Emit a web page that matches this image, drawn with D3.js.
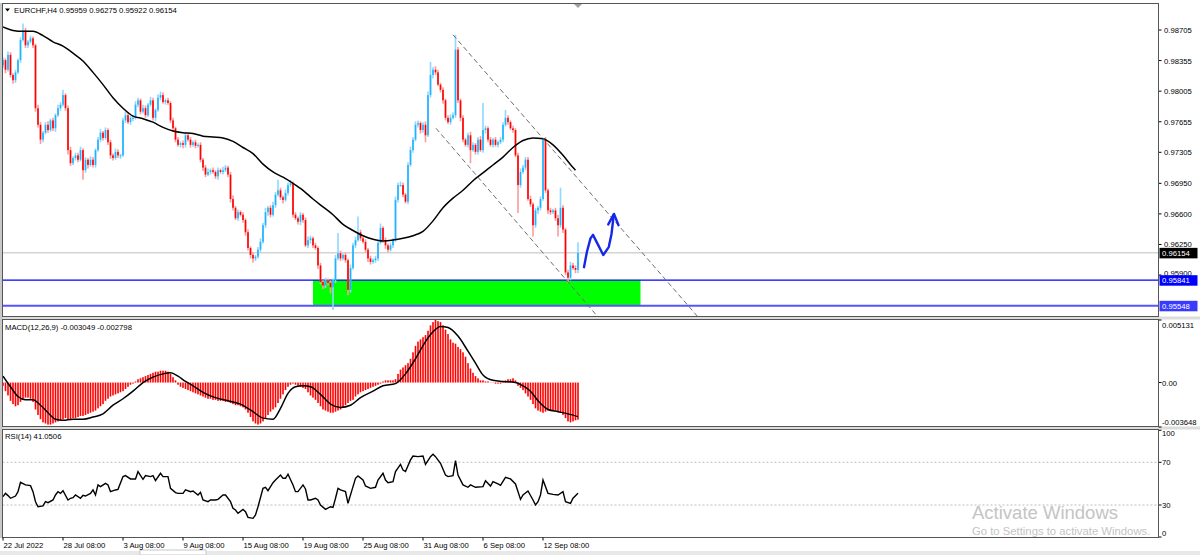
<!DOCTYPE html>
<html><head><meta charset="utf-8">
<script src="https://cdn.jsdelivr.net/npm/d3@7"></script>
<style>
body{margin:0;background:#fff;overflow:hidden}
svg{display:block}
text{font-family:"Liberation Sans",Arial,sans-serif}
</style></head>
<body><svg id="c" width="1200" height="555"></svg>
<script>
// ---------------- DATA ----------------
const symbolLabel = "EURCHF,H4";
const headerOHLC = ["0.95959","0.96275","0.95922","0.96154"];
const firstOpen = 0.9830;
const closes = [
0.9836,0.9825,0.9842,0.9819,0.9813,0.9822,0.9836,0.9859,0.9870,0.9853,
0.9857,0.9861,0.9853,0.9781,0.9762,0.9745,0.9753,0.9762,0.9756,0.9767,
0.9758,0.9773,0.9781,0.9785,0.9796,0.9781,0.9733,0.9718,0.9724,0.9727,
0.9722,0.9733,0.9710,0.9722,0.9716,0.9722,0.9716,0.9733,0.9745,0.9753,
0.9747,0.9756,0.9742,0.9727,0.9724,0.9731,0.9727,0.9727,0.9767,0.9773,
0.9765,0.9770,0.9770,0.9785,0.9790,0.9777,0.9781,0.9773,0.9785,0.9790,
0.9770,0.9779,0.9793,0.9796,0.9788,0.9790,0.9787,0.9767,0.9758,0.9745,
0.9739,0.9741,0.9739,0.9750,0.9745,0.9739,0.9742,0.9738,0.9739,0.9722,
0.9713,0.9705,0.9708,0.9710,0.9708,0.9703,0.9710,0.9708,0.9710,0.9713,
0.9705,0.9677,0.9667,0.9655,0.9662,0.9659,0.9653,0.9639,0.9621,0.9613,
0.9609,0.9611,0.9619,0.9628,0.9647,0.9662,0.9667,0.9659,0.9670,0.9682,
0.9687,0.9679,0.9676,0.9684,0.9693,0.9695,0.9659,0.9655,0.9651,0.9659,
0.9653,0.9624,0.9630,0.9632,0.9624,0.9621,0.9601,0.9582,0.9578,0.9584,
0.9581,0.9576,0.9584,0.9609,0.9615,0.9609,0.9613,0.9607,0.9573,0.9598,
0.9624,0.9630,0.9639,0.9632,0.9628,0.9619,0.9609,0.9605,0.9607,0.9609,
0.9627,0.9644,0.9630,0.9624,0.9619,0.9624,0.9630,0.9676,0.9693,0.9693,
0.9682,0.9674,0.9716,0.9733,0.9745,0.9762,0.9764,0.9756,0.9762,0.9750,
0.9796,0.9819,0.9825,0.9822,0.9808,0.9802,0.9790,0.9770,0.9765,0.9770,
0.9773,0.9848,0.9790,0.9770,0.9745,0.9739,0.9750,0.9733,0.9739,0.9731,
0.9745,0.9733,0.9756,0.9758,0.9745,0.9739,0.9745,0.9739,0.9742,0.9745,
0.9762,0.9770,0.9765,0.9758,0.9756,0.9727,0.9693,0.9708,0.9713,0.9722,
0.9677,0.9671,0.9647,0.9664,0.9667,0.9677,0.9745,0.9687,0.9664,0.9662,
0.9664,0.9655,0.9647,0.9667,0.9642,0.9593,0.9587,0.9601,0.9598,0.9596,
0.96154];
// wick lengths above/below the body, in pips (0.0001)
const upperWickPips = [
3,2,4,3,2,3,2,3,8,3, 2,3,2,2,4,3,2,3,4,2, 3,2,4,3,6,2,3,4,2,3, 3,4,2,3,2,4,3,2,3,4,
2,3,2,3,2,4,3,2,3,4, 3,2,3,4,3,2,4,3,2,4, 3,2,4,4,3,2,3,2,3,2, 3,2,3,4,2,3,2,3,2,3,
2,3,4,2,3,2,3,2,4,3, 2,3,4,2,3,2,3,2,3,2, 3,2,3,4,3,5,2,3,4,3, 12,3,2,4,3,4,2,3,2,3,
2,3,4,3,2,3,2,3,2,3, 2,3,2,4,23,3,2,3,2,4, 3,4,18,3,2,3,2,3,2,3, 3,5,2,3,2,3,2,4,3,4,
3,2,3,4,3,4,3,2,3,4, 4,15,3,4,3,2,3,2,3,4, 3,17,3,2,3,2,3,4,3,2, 3,4,31,3,2,3,2,3,2,3,
3,9,3,2,3,2,3,4,3,3, 3,4,2,3,2,3,2,3,2,3, 2,3,4,23,3,2,3,4,3,3, 12.1];
const lowerWickPips = [
3,4,2,3,4,3,2,3,2,3, 3,2,3,4,3,5,3,2,3,2, 3,4,2,3,2,3,5,3,2,3, 3,2,11,3,4,2,3,3,2,3,
3,2,3,4,3,2,3,4,2,3, 2,3,4,2,3,3,2,3,2,2, 3,4,2,3,2,3,2,3,4,3, 2,3,4,3,2,3,2,3,2,3,
4,3,2,3,2,3,4,2,3,2, 3,4,3,2,3,2,3,4,3,4, 5,3,2,3,2,3,4,3,2,3, 2,3,4,2,3,2,3,2,3,4,
3,2,3,4,3,2,4,3,4,3, 3,7,26,3,2,3,2,3,6,3, 2,3,2,3,2,3,4,3,2,3, 3,2,3,4,3,2,3,2,3,2,
3,2,3,2,3,2,3,4,3,8, 2,3,4,3,2,3,4,3,2,3, 2,3,3,4,3,2,3,15,2,3, 3,2,3,4,3,2,3,2,3,2,
3,2,3,2,3,2,32,3,2,3, 2,3,13,3,4,3,2,3,4,3, 2,3,13,3,4,3,6,3,2,4, 3.7];
const lastOpen = 0.95959;

// moving average (read at every 4th bar)
const maBars = [0,4,8,12,16,20,24,28,32,36,40,44,48,52,56,60,64,68,72,76,80,84,88,92,96,100,104,108,112,116,120,124,128,132,136,140,144,148,152,156,160,164,168,172,176,180,184,188,192,196,200,204,208,212,216,220,224,228,229];
const maVals = [0.9874,0.9870,0.9869,0.9869,0.9864,0.9857,0.9852,0.9844,0.9835,0.9822,0.9808,0.9793,0.9781,0.9772,0.9769,0.9765,0.9759,0.9755,0.9753,0.9752,0.9749,0.9748,0.9747,0.9743,0.9736,0.9729,0.9717,0.9708,0.9702,0.9695,0.9687,0.9677,0.9668,0.9659,0.9648,0.9641,0.9635,0.9631,0.9629,0.9630,0.9632,0.9635,0.9640,0.9652,0.9667,0.9678,0.9687,0.9698,0.9707,0.9716,0.9725,0.9736,0.9744,0.9747,0.9746,0.9739,0.9727,0.9713,0.9710];

// MACD main histogram, in units of 0.001
const macdMain = [
-0.27,-0.71,-1.06,-1.50,-1.77,-1.95,-1.86,-1.59,-1.33,-1.24,
-1.24,-1.33,-1.59,-2.21,-2.66,-3.01,-3.27,-3.36,-3.45,-3.45,
-3.36,-3.27,-3.19,-3.10,-3.01,-2.92,-3.01,-3.01,-2.92,-2.92,
-2.83,-2.74,-2.74,-2.66,-2.57,-2.48,-2.39,-2.30,-2.12,-1.95,
-1.77,-1.50,-1.33,-1.15,-1.06,-0.97,-0.89,-0.80,-0.71,-0.53,
-0.35,-0.18,-0.09,0.09,0.27,0.35,0.44,0.53,0.62,0.71,
0.80,0.89,0.89,0.97,0.97,0.97,0.89,0.71,0.44,0.18,
-0.18,-0.35,-0.44,-0.53,-0.62,-0.71,-0.80,-0.89,-0.97,-1.06,
-1.15,-1.24,-1.33,-1.33,-1.42,-1.42,-1.50,-1.50,-1.50,-1.59,
-1.59,-1.68,-1.77,-1.86,-1.86,-1.95,-2.04,-2.21,-2.48,-2.83,
-3.19,-3.36,-3.45,-3.36,-3.19,-2.92,-2.66,-2.39,-2.21,-2.04,
-1.68,-1.33,-0.97,-0.62,-0.35,-0.18,-0.09,-0.18,-0.27,-0.35,
-0.44,-0.53,-0.80,-1.06,-1.24,-1.42,-1.68,-1.95,-2.21,-2.30,
-2.39,-2.48,-2.48,-2.39,-2.30,-2.21,-2.04,-1.86,-1.68,-1.50,
-1.42,-1.15,-0.97,-0.80,-0.71,-0.62,-0.53,-0.44,-0.35,-0.27,
-0.18,-0.09,0.09,0.18,0.18,0.18,0.18,0.27,0.71,1.06,
1.24,1.42,1.59,1.95,2.48,3.01,3.36,3.54,3.72,3.89,
4.25,4.69,4.96,5.13,5.04,4.96,4.69,4.34,3.98,3.54,
3.27,3.19,2.92,2.74,2.48,2.12,1.59,1.15,0.80,0.53,
0.35,0.18,0.18,0.09,0.09,0.02,-0.02,-0.09,-0.09,-0.09,
0.09,0.18,0.27,0.27,0.35,0.18,-0.27,-0.44,-0.62,-0.89,
-1.15,-1.42,-1.77,-2.12,-2.30,-2.39,-2.48,-2.39,-2.30,-2.30,
-2.30,-2.30,-2.39,-2.48,-2.66,-2.92,-3.19,-3.27,-3.19,-3.10,
-3.049];
// MACD signal line (units of 0.001), read at these bars
const signalBars = [0,3,6,9,12,15,18,21,24,28,32,36,40,44,48,52,56,60,64,67,70,73,76,80,85,90,95,100,104,108,111,114,117,120,123,127,131,135,139,143,148,152,157,161,165,169,172,175,178,182,186,189,192,196,200,205,208,211,214,218,222,226,230];
const signalVals = [0.53,-0.35,-1.15,-1.42,-1.42,-1.86,-2.48,-3.01,-3.10,-3.01,-3.01,-2.83,-2.57,-1.86,-1.33,-0.71,0,0.44,0.71,0.80,0.53,0.09,-0.27,-0.80,-1.24,-1.50,-1.77,-2.39,-2.92,-3.01,-2.12,-0.89,-0.35,-0.27,-0.35,-0.97,-1.77,-2.04,-1.86,-1.24,-0.71,-0.27,-0.09,0.71,1.95,3.36,4.16,4.60,4.51,3.81,2.57,1.59,0.62,0.18,0.09,0,-0.27,-0.71,-1.50,-2.21,-2.39,-2.57,-2.798];
const macdLabel = "MACD(12,26,9) -0.003049 -0.002798";
const macdTicks = [0.005131, 0, -0.003648];
const macdTickLabels = ["0.005131","0.00","-0.003648"];

// RSI(14), read at these bars
const rsiBars = [0,1,2,3,5,6,7,9,11,12,13,14,16,17,18,20,21,22,23,24,26,27,28,29,31,32,33,35,36,37,38,39,41,42,43,45,46,48,49,51,53,54,56,57,59,60,61,63,64,66,67,69,70,72,73,75,76,78,79,80,82,83,85,86,88,89,91,92,93,94,96,97,98,100,101,102,104,105,106,108,109,111,112,113,114,116,117,118,120,121,122,123,125,126,127,129,131,132,133,134,135,137,138,140,141,142,144,145,147,149,150,152,153,154,156,157,159,160,161,163,164,166,168,169,171,172,173,175,177,178,180,181,182,184,186,187,189,192,193,195,196,198,199,201,203,205,207,208,210,212,213,214,215,216,218,220,222,224,225,227,228,230];
const rsiVals = [37.8,40.9,38.8,36.3,38.4,42.5,51.3,48.8,48.1,42.5,33.1,28.4,29.1,33.1,32.2,34.7,39.4,42.5,40.9,43.4,34.7,36.3,36.9,39.4,36.3,39.1,38.4,40.9,44.1,39.4,48.8,47.2,50.3,48.8,42.5,44.1,44.7,56.6,57.5,54.4,54.4,61.3,54.1,57.5,56.6,57.5,52.8,59.7,56.6,56.6,45.6,41.6,40.9,40.9,44.1,42.5,43.1,39.4,41.9,34.7,33.1,34.7,34.7,35.3,39.4,39.4,33.1,26.9,25.3,22.2,25.9,23.8,18.4,17.5,20.6,28.4,45.6,46.6,43.4,50.9,53.4,58.1,55.0,55.0,58.8,48.8,42.5,42.5,48.8,45.0,34.7,34.7,36.3,34.7,30.0,25.9,28.4,27.8,36.3,45.6,44.1,42.5,31.6,47.2,55.0,57.2,53.4,47.8,45.6,46.6,53.4,59.7,53.4,50.9,51.9,61.3,68.1,62.8,61.3,72.2,75.9,75.3,75.9,68.1,75.3,77.5,75.3,69.1,58.1,56.6,57.5,71.6,58.1,48.8,46.6,48.8,46.6,47.2,52.8,47.8,51.9,49.7,48.4,55.9,54.4,49.7,35.3,39.4,43.1,34.7,30.0,33.1,39.4,53.4,40.9,40.0,39.4,42.5,33.1,31.6,36.3,41.05];
const rsiLabel = "RSI(14) 41.0506";
const rsiTicks = [100, 70, 30, 0];
const rsiLevels = [70, 30];

// price axis
const priceTicks = [0.98705,0.98355,0.98005,0.97655,0.97305,0.96950,0.96600,0.96250,0.95900];
const lastPrice = 0.96154;
const hLevels = [0.95841, 0.95548];

// time axis
const timeLabels = ["22 Jul 2022","28 Jul 08:00","3 Aug 08:00","9 Aug 08:00","15 Aug 08:00","19 Aug 08:00","25 Aug 08:00","31 Aug 08:00","6 Sep 08:00","12 Sep 08:00"];
const timeLabelBars = [0,24,48,72,96,120,144,168,192,216];

// drawn objects (bar index, price)
const zone = {startBar:124, endBar:255, top:0.95841, bottom:0.95548};
const channelUpper = [[180,0.9865],[278,0.9542]];
const channelLower = [[173.2,0.9758],[238,0.9542]];
const arrowPath = [[232.4,0.9599],[233.6,0.9617],[235.0,0.9632],[236.0,0.9636],[240.1,0.9613],[242.3,0.9622],[243.4,0.9637],[244.3,0.9659]];
const arrowHead = [[242.1,0.9648],[244.4,0.9660],[246.2,0.9647]];

// ---------------- CHART ----------------
const svg = d3.select("#c");
const L = 2.5, R = 1158.5;
const P1 = {t:3.5, b:316.5}, P2 = {t:319.5, b:426.5}, P3 = {t:429.5, b:537.5};

const x = d3.scaleLinear().domain([0,230]).range([3,578]);
const y = d3.scaleLinear().domain([0.95548,0.98705]).range([305.8,30]);
const yM = d3.scaleLinear().domain([-0.003648,0.005131]).range([427,320]);
const yR = d3.scaleLinear().domain([30,70]).range([505,462.3]);

const defs = svg.append("defs");
[["cp1",P1],["cp2",P2],["cp3",P3]].forEach(([id,p])=>{
  defs.append("clipPath").attr("id",id).append("rect")
    .attr("x",L+0.5).attr("y",p.t+0.5).attr("width",R-L-1).attr("height",p.b-p.t-1);
});

svg.append("rect").attr("width",1200).attr("height",555).attr("fill","#fff");
// window bottom strip
svg.append("rect").attr("x",0).attr("y",551).attr("width",1200).attr("height",4).attr("fill","#e8e8e8");
svg.append("rect").attr("x",140).attr("y",550).attr("width",66).attr("height",5).attr("fill","#fff").attr("stroke","#c8c8c8");

// panel separators
svg.append("rect").attr("x",0).attr("y",316.5).attr("width",1200).attr("height",3).attr("fill","#dcdcdc");
svg.append("rect").attr("x",0).attr("y",426.5).attr("width",1200).attr("height",3).attr("fill","#dcdcdc");
svg.append("rect").attr("x",0).attr("y",3).attr("width",2.5).attr("height",535).attr("fill","#c8c8c8");

// ---- main panel ----
const g1 = svg.append("g").attr("clip-path","url(#cp1)");
// zone
g1.append("rect")
  .attr("x",x(zone.startBar)).attr("width",x(zone.endBar)-x(zone.startBar))
  .attr("y",y(zone.top)).attr("height",y(zone.bottom)-y(zone.top))
  .attr("fill","#00ff00");
// current price line
g1.append("line").attr("x1",L).attr("x2",R).attr("y1",y(lastPrice)).attr("y2",y(lastPrice))
  .attr("stroke","#d4d4d4").attr("stroke-width",1.5);
// horizontal levels
g1.append("line").attr("x1",L).attr("x2",R).attr("y1",y(hLevels[0])).attr("y2",y(hLevels[0]))
  .attr("stroke","#0000ff").attr("stroke-width",1.3);
g1.append("line").attr("x1",L).attr("x2",R).attr("y1",y(hLevels[1])).attr("y2",y(hLevels[1]))
  .attr("stroke","#5555ff").attr("stroke-width",2);

// candles
const candles = closes.map((c,i)=>{
  const o = i===0 ? firstOpen : (i===closes.length-1 ? lastOpen : closes[i-1]);
  return {i, o, c, h:Math.max(o,c)+upperWickPips[i]*1e-4, l:Math.min(o,c)-lowerWickPips[i]*1e-4, up:c>=o};
});
const cg = g1.append("g");
cg.selectAll("line.w").data(candles).join("line").attr("class","w")
  .attr("x1",d=>x(d.i)).attr("x2",d=>x(d.i))
  .attr("y1",d=>y(d.h)).attr("y2",d=>y(d.l))
  .attr("stroke",d=>d.up?"#8fd8ff":"#ff9a9a").attr("stroke-width",1.6);
cg.selectAll("rect.b").data(candles).join("rect").attr("class","b")
  .attr("x",d=>x(d.i)-0.8).attr("width",1.6)
  .attr("y",d=>y(Math.max(d.o,d.c)))
  .attr("height",d=>Math.max(1,y(Math.min(d.o,d.c))-y(Math.max(d.o,d.c))))
  .attr("fill",d=>d.up?"#1eb4ff":"#ff0000");

// moving average
g1.append("path").datum(maBars.map((b,k)=>[b,maVals[k]]))
  .attr("d",d3.line().x(d=>x(d[0])).y(d=>y(d[1])).curve(d3.curveMonotoneX))
  .attr("fill","none").attr("stroke","#000").attr("stroke-width",1.5);

// channel
[channelUpper, channelLower].forEach(seg=>{
  g1.append("line").attr("x1",x(seg[0][0])).attr("y1",y(seg[0][1]))
    .attr("x2",x(seg[1][0])).attr("y2",y(seg[1][1]))
    .attr("stroke","#6e6e6e").attr("stroke-width",1).attr("stroke-dasharray","5,3");
});

// hand drawn arrow
g1.append("path").datum(arrowPath)
  .attr("d",d3.line().x(d=>x(d[0])).y(d=>y(d[1])))
  .attr("fill","none").attr("stroke","#1428e6").attr("stroke-width",2.4).attr("stroke-linecap","round").attr("stroke-linejoin","round");
g1.append("path").datum(arrowHead)
  .attr("d",d3.line().x(d=>x(d[0])).y(d=>y(d[1])))
  .attr("fill","none").attr("stroke","#1428e6").attr("stroke-width",2.4).attr("stroke-linecap","round").attr("stroke-linejoin","round");

// header
svg.append("path").attr("d","M5,8.5 L10,8.5 L7.5,11.5 Z").attr("fill","#000");
svg.append("text").attr("x",14).attr("y",13).attr("font-size",7.7).attr("fill","#000")
  .text(symbolLabel+"  "+headerOHLC.join(" "));
// chart shift marker
svg.append("path").attr("d",`M${x(230)-4},4 L${x(230)+4},4 L${x(230)},8 Z`).attr("fill","#a0a0a0");

// price axis
const ax = svg.append("g");
priceTicks.forEach(v=>{
  ax.append("line").attr("x1",R).attr("x2",R+3).attr("y1",y(v)).attr("y2",y(v)).attr("stroke","#000");
  // the 0.95900 label sits partly behind the 0.95841 marker, as in MT4; keep it just above
  const yy = v===0.95900 ? y(v)+1 : y(v)+3;
  ax.append("text").attr("x",1164).attr("y",yy).attr("font-size",7.7).attr("fill","#000").text(v.toFixed(5));
});
function priceBox(v,fill,txt){
  ax.append("rect").attr("x",R+1).attr("y",y(v)-5).attr("width",38).attr("height",10.5).attr("fill",fill);
  ax.append("text").attr("x",1162).attr("y",y(v)+3).attr("font-size",7.7).attr("fill","#fff").text(txt);
}
priceBox(lastPrice,"#000",lastPrice.toFixed(5));
priceBox(hLevels[0],"#0000ff",hLevels[0].toFixed(5));
priceBox(hLevels[1],"#3a3aff",hLevels[1].toFixed(5));

// ---- MACD panel ----
const g2 = svg.append("g").attr("clip-path","url(#cp2)");
g2.selectAll("rect").data(macdMain).join("rect")
  .attr("x",(d,i)=>x(i)-0.8).attr("width",1.6)
  .attr("y",d=>yM(Math.max(0,d*1e-3)))
  .attr("height",d=>Math.abs(yM(d*1e-3)-yM(0)))
  .attr("fill","#ff0000");
g2.append("path").datum(signalBars.map((b,k)=>[b,signalVals[k]*1e-3]))
  .attr("d",d3.line().x(d=>x(d[0])).y(d=>yM(d[1])).curve(d3.curveMonotoneX))
  .attr("fill","none").attr("stroke","#000").attr("stroke-width",1.5);
svg.append("text").attr("x",5).attr("y",330).attr("font-size",7.7).text(macdLabel);
const macdLabelY = [328, yM(0)+3, 425];
macdTicks.forEach((v,k)=>{
  svg.append("line").attr("x1",R).attr("x2",R+3).attr("y1",yM(v)).attr("y2",yM(v)).attr("stroke","#000");
  svg.append("text").attr("x",1162).attr("y",macdLabelY[k]).attr("font-size",7.7).text(macdTickLabels[k]);
});

// ---- RSI panel ----
const g3 = svg.append("g").attr("clip-path","url(#cp3)");
rsiLevels.forEach(v=>{
  g3.append("line").attr("x1",L).attr("x2",R).attr("y1",yR(v)).attr("y2",yR(v))
    .attr("stroke","#bdbdbd").attr("stroke-dasharray","2,2");
});
g3.append("path").datum(rsiBars.map((b,k)=>[b,rsiVals[k]]))
  .attr("d",d3.line().x(d=>x(d[0])).y(d=>yR(d[1])))
  .attr("fill","none").attr("stroke","#000").attr("stroke-width",1.4);
svg.append("text").attr("x",5).attr("y",439).attr("font-size",7.7).text(rsiLabel);
rsiTicks.forEach(v=>{
  const yy = Math.min(Math.max(yR(v)+3, 435.5), 535.5);
  svg.append("line").attr("x1",R).attr("x2",R+3).attr("y1",yR(v)).attr("y2",yR(v)).attr("stroke","#000");
  svg.append("text").attr("x",1162).attr("y",yy).attr("font-size",7.7).text(String(v));
});

// watermark
svg.append("text").attr("x",972).attr("y",519).attr("font-size",18.5).attr("fill","#c4c4c4").text("Activate Windows");
svg.append("text").attr("x",972).attr("y",535).attr("font-size",11.3).attr("fill","#c4c4c4").text("Go to Settings to activate Windows.");

// panel borders
[P1,P2,P3].forEach(p=>{
  svg.append("rect").attr("x",L).attr("y",p.t).attr("width",R-L).attr("height",p.b-p.t)
    .attr("fill","none").attr("stroke","#555").attr("stroke-width",1);
});

// time axis
timeLabelBars.forEach((b,k)=>{
  svg.append("line").attr("x1",x(b)).attr("x2",x(b)).attr("y1",P3.b).attr("y2",P3.b+3).attr("stroke","#000");
  svg.append("text").attr("x",x(b)+0.5).attr("y",548).attr("font-size",7.7).text(timeLabels[k]);
});
</script></body></html>
